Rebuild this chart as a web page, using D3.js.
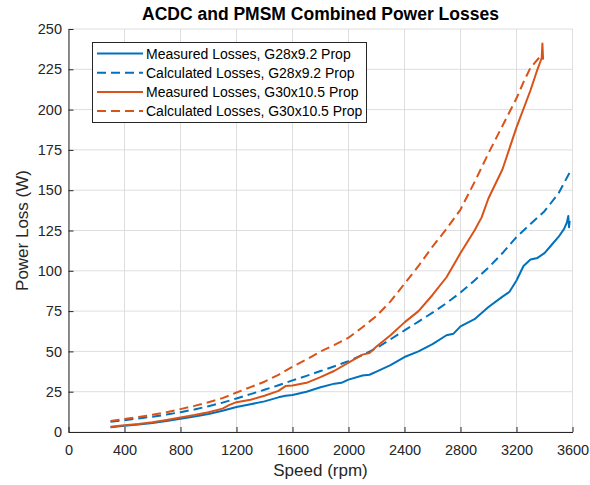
<!DOCTYPE html>
<html><head><meta charset="utf-8">
<script src="https://cdn.jsdelivr.net/npm/d3@7"></script>
<style>body{margin:0;background:#fff;} svg{display:block;font-family:"Liberation Sans",Arial,sans-serif;}</style>
</head><body>
<svg id="c" width="590" height="485"></svg>
<script>
const xTicks = [0,400,800,1200,1600,2000,2400,2800,3200,3600];
const yTicks = [0,25,50,75,100,125,150,175,200,225,250];

const rpmMeasG28 = [300,400,500,600,700,800,900,1000,1100,1200,1300,1400,1500,1550,1600,1700,1800,1900,1950,2000,2100,2150,2200,2300,2400,2500,2600,2700,2750,2800,2900,3000,3100,3150,3200,3250,3300,3350,3400,3450,3500,3540,3560,3570,3575,3580];
const lossMeasG28 = [3,3.8,4.7,5.6,6.8,8.2,9.6,11.2,13.2,15.5,17.2,19,21.5,22.5,23,25,27.8,30,30.5,32.5,35,35.5,37.5,41.5,46.5,50,54.5,60,61,65.5,70,77.5,84,87,94,103,107,108,111,116,121,126,130,134,127,131];

const rpmCalcG28 = [300,400,500,600,700,800,900,1000,1100,1200,1300,1400,1500,1600,1700,1800,1900,2000,2100,2200,2300,2400,2500,2600,2700,2800,2900,3000,3100,3200,3300,3400,3500,3580];
const lossCalcG28 = [6.3,7.3,8.4,9.5,10.8,12.3,14,16,18.2,20.8,23.5,26.2,29,32,34.8,37.8,40.8,44,47.8,52,57.5,63,68.5,74,80,86.5,94,102,111,121,129,137,148,161];

const rpmMeasG30 = [300,400,500,600,700,800,900,1000,1100,1150,1200,1300,1400,1500,1550,1600,1700,1800,1900,2000,2100,2150,2200,2300,2400,2500,2600,2700,2800,2900,2950,3000,3100,3200,3300,3350,3380,3385,3390];
const lossMeasG30 = [3.3,4.2,5,6,7.5,9,10.5,12.2,14.5,16.8,18.5,20,22.5,25.5,28.5,28.8,30.5,34,38,43,48,49,53,60,68,75,85,96,111,125,133,145,163,189,212,225,232,241,231];

const rpmCalcG30 = [300,400,500,600,700,800,900,1000,1100,1200,1300,1400,1500,1600,1700,1800,1900,2000,2100,2200,2300,2400,2500,2600,2700,2800,2900,3000,3100,3200,3250,3300,3340,3370];
const lossCalcG30 = [6.8,8,9.3,10.7,12.3,14.2,16.2,18.5,21,24.5,27.8,31.2,35.5,40.5,45,50,54,58.5,65,72,81,92,103,115,126,138,155,173,190,207,217,226,230,233];

const seriesNames = ["Measured Losses, G28x9.2 Prop","Calculated Losses, G28x9.2 Prop","Measured Losses, G30x10.5 Prop","Calculated Losses, G30x10.5 Prop"];
const colors = ["#0072BD","#0072BD","#D95319","#D95319"];
const dashed = [false,true,false,true];
const series = [
  {x:rpmMeasG28,y:lossMeasG28},
  {x:rpmCalcG28,y:lossCalcG28},
  {x:rpmMeasG30,y:lossMeasG30},
  {x:rpmCalcG30,y:lossCalcG30}
];

const svg = d3.select("#c");
const L=68.5,R=572.5,T=29,B=432;
const x = d3.scaleLinear().domain([0,3600]).range([L,R]);
const y = d3.scaleLinear().domain([0,250]).range([B,T]);
const axisCol="#262626";

// grid
const g = svg.append("g");
g.selectAll(".gx").data(xTicks).enter().append("line")
  .attr("x1",d=>x(d)).attr("x2",d=>x(d)).attr("y1",T).attr("y2",B)
  .attr("stroke","#dedede").attr("stroke-width",1);
g.selectAll(".gy").data(yTicks).enter().append("line")
  .attr("y1",d=>y(d)).attr("y2",d=>y(d)).attr("x1",L).attr("x2",R)
  .attr("stroke","#dedede").attr("stroke-width",1);

// lines
const line = d3.line().x(d=>x(d[0])).y(d=>y(d[1]));
series.forEach((s,i)=>{
  svg.append("path").datum(s.x.map((v,j)=>[v,s.y[j]]))
    .attr("d",line).attr("fill","none").attr("stroke",colors[i])
    .attr("stroke-width",2).attr("stroke-linejoin","round")
    .attr("stroke-dasharray",dashed[i]?"9,5":null);
});

// axes
const xAxis = d3.axisBottom(x).tickValues(xTicks).tickFormat(d3.format("d")).tickSizeInner(-5).tickSizeOuter(0).tickPadding(13);
const yAxis = d3.axisLeft(y).tickValues(yTicks).tickFormat(d3.format("d")).tickSizeInner(-5).tickSizeOuter(0).tickPadding(6.5);
const gx = svg.append("g").attr("transform",`translate(0,${B})`).call(xAxis);
const gy = svg.append("g").attr("transform",`translate(${L},0)`).call(yAxis);
[gx,gy].forEach(a=>{
  a.select(".domain").attr("stroke",axisCol);
  a.selectAll(".tick line").attr("stroke",axisCol);
  a.selectAll(".tick text").attr("fill",axisCol).style("font-size","14.5px").style("font-family","'Liberation Sans',Arial,sans-serif");
});

// title & labels
svg.append("text").attr("x",(L+R)/2).attr("y",19.5).attr("text-anchor","middle")
  .style("font-weight","bold").style("font-size","17.5px").attr("fill","#000")
  .text("ACDC and PMSM Combined Power Losses");
svg.append("text").attr("x",(L+R)/2).attr("y",476).attr("text-anchor","middle")
  .style("font-size","17px").attr("fill",axisCol).text("Speed (rpm)");
svg.append("text").attr("transform",`translate(28,${(T+B)/2}) rotate(-90)`).attr("text-anchor","middle")
  .style("font-size","17px").attr("fill",axisCol).text("Power Loss (W)");

// legend
const lg = svg.append("g");
lg.append("rect").attr("x",92.5).attr("y",42.5).attr("width",274).attr("height",80)
  .attr("fill","#fff").attr("stroke",axisCol).attr("stroke-width",1);
seriesNames.forEach((n,i)=>{
  const yy = 53.5 + i*19.2;
  lg.append("line").attr("x1",97).attr("x2",143).attr("y1",yy).attr("y2",yy)
    .attr("stroke",colors[i]).attr("stroke-width",2).attr("stroke-dasharray",dashed[i]?"9,5":null);
  lg.append("text").attr("x",146).attr("y",yy+5).style("font-size","14px").attr("fill","#000").text(n);
});
</script>
</body></html>
